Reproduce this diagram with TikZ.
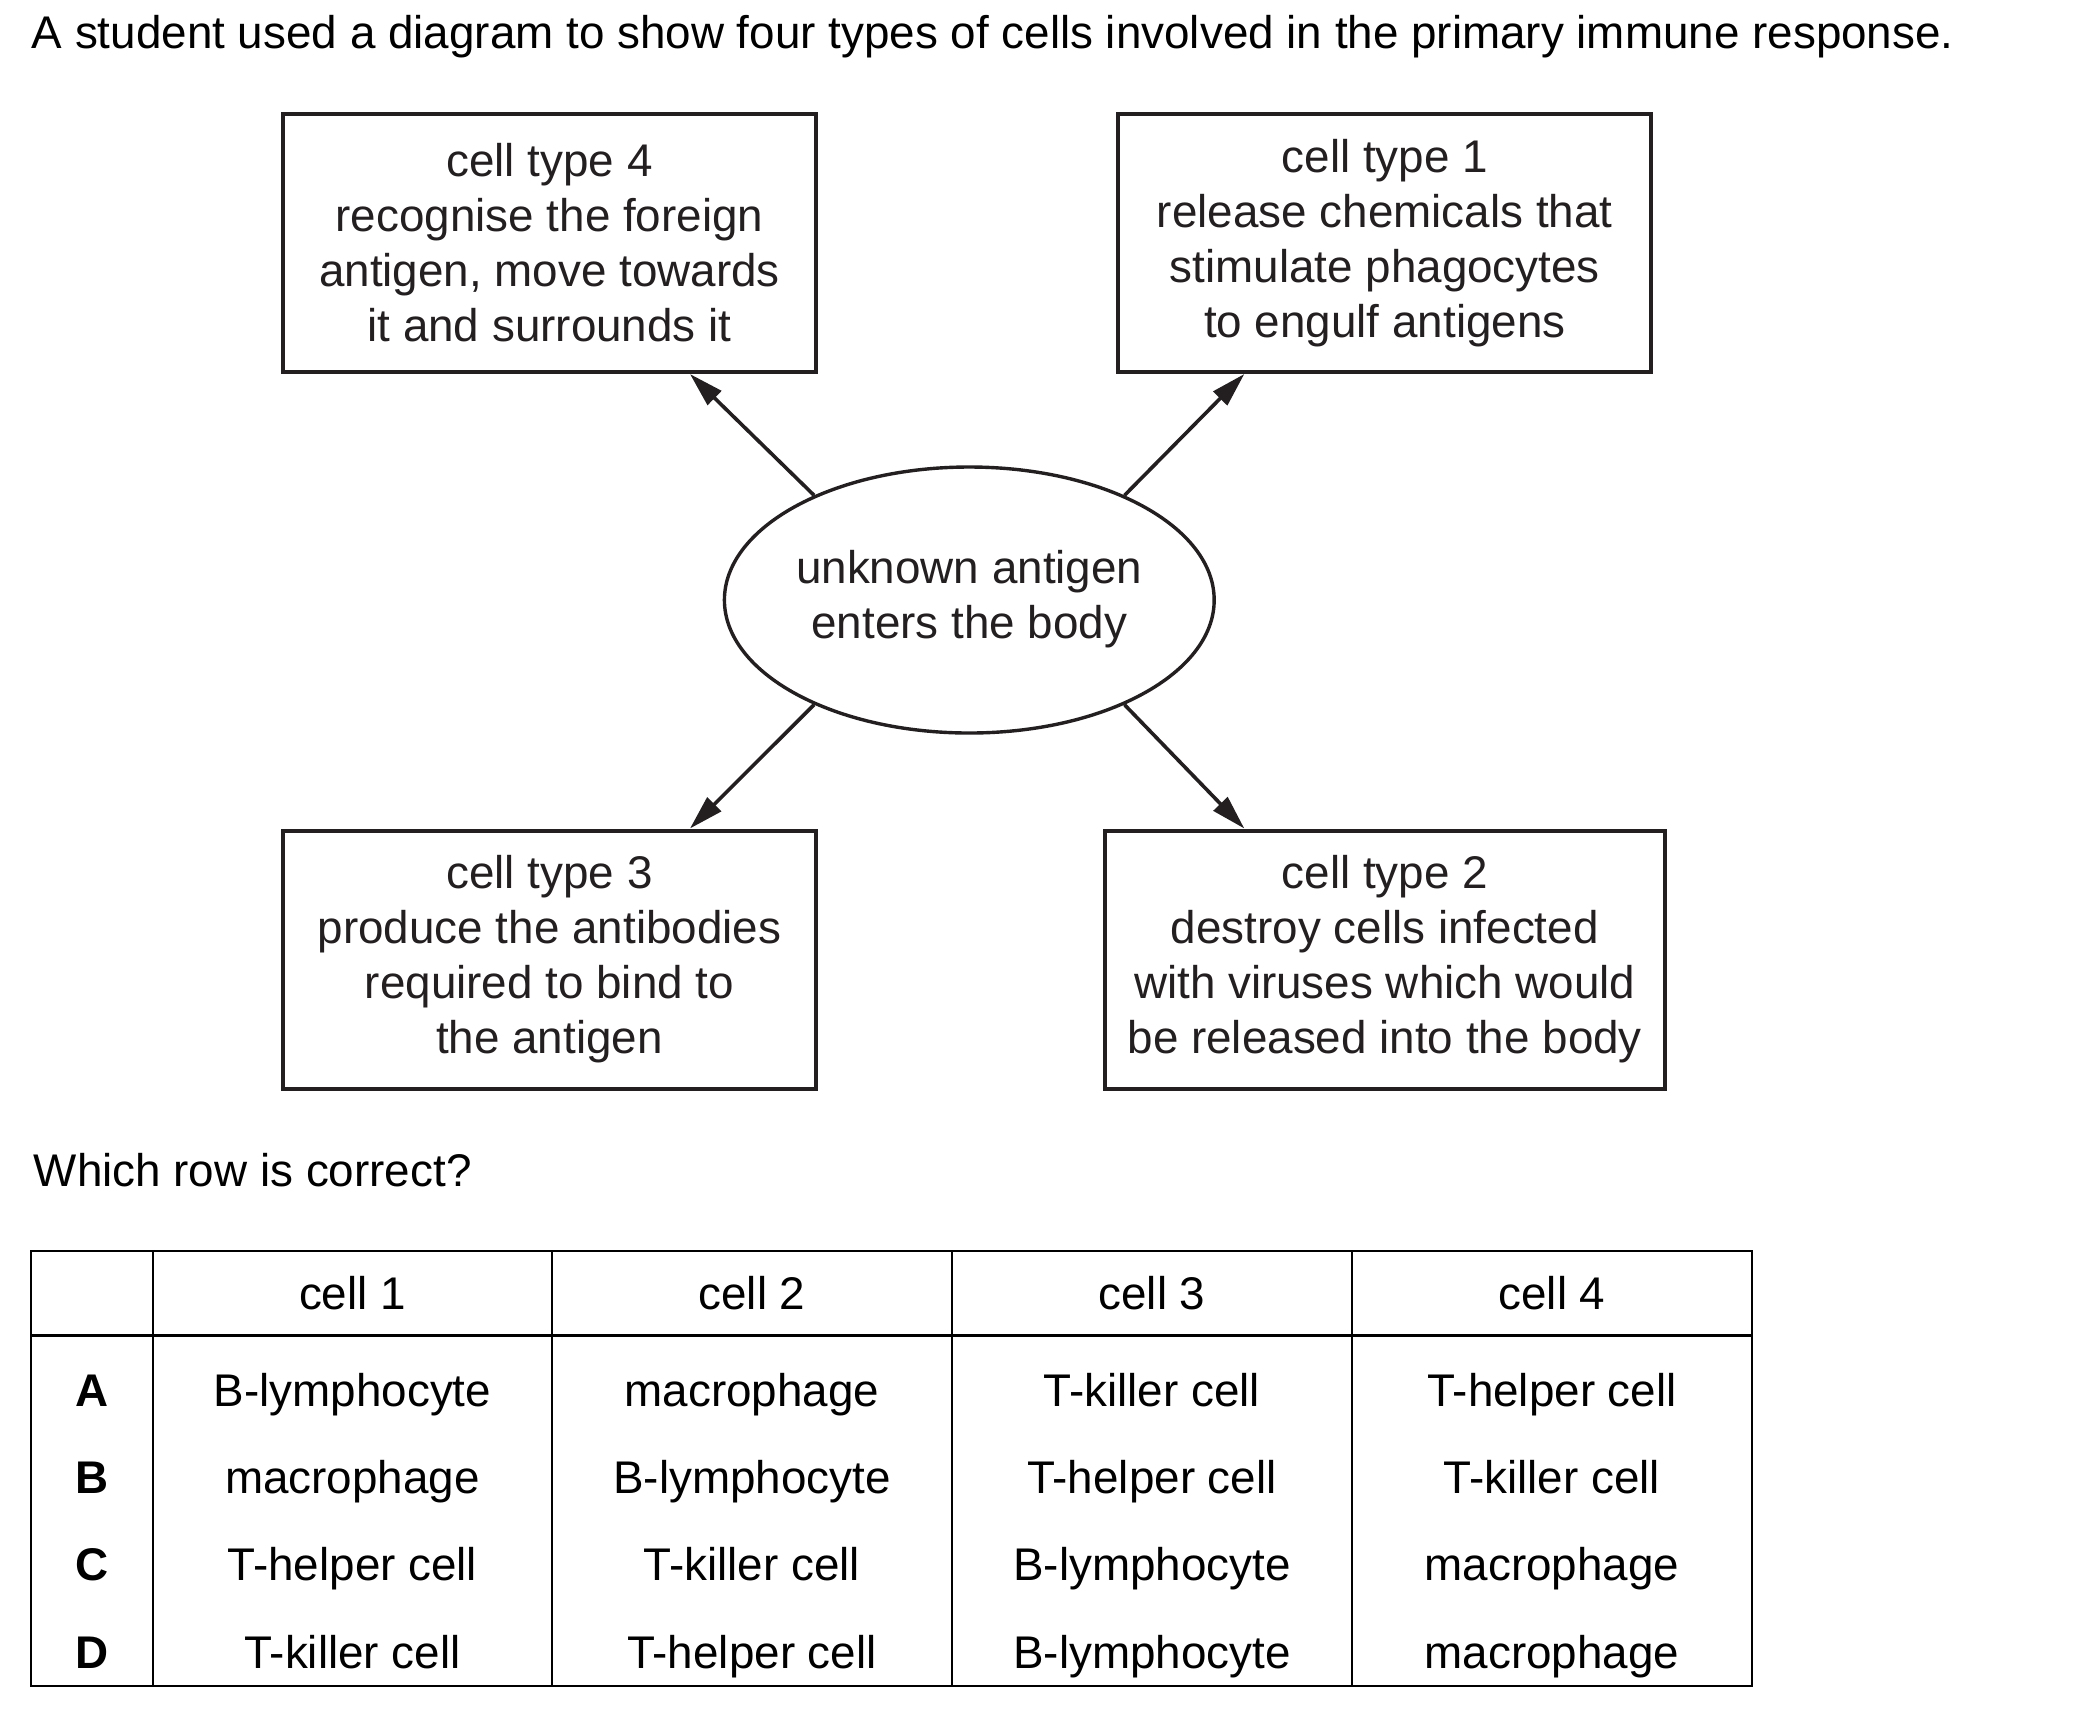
\documentclass[tikz,border=0pt]{standalone}
\usepackage{fontspec}
\setmainfont{Liberation Sans}
\usepackage{tikz}
\usetikzlibrary{arrows.meta,shapes.geometric}
\definecolor{ink}{HTML}{231F20}

\begin{document}
\begin{tikzpicture}[x=0.25pt,y=-0.25pt,>={Triangle[length=8.6pt,width=4.8pt]},
  every node/.style={font=\fontsize{11.45}{13.75}\selectfont,inner sep=0pt},
  cellbox/.style={draw=ink,line width=1pt,text=ink,align=center,minimum width=133.25pt,minimum height=64.5pt},
  antigenbox/.style={ellipse,draw=ink,line width=0.85pt,text=ink,align=center,minimum width=122.35pt,minimum height=66.5pt},
  link/.style={->,draw=ink,line width=0.9pt},
  tabrule/.style={line width=0.7pt},
  entry/.style={anchor=base},
  rowletter/.style={anchor=base,font=\fontsize{11.45}{13.75}\selectfont\bfseries}]
\useasboundingbox (0,0) rectangle (2100,1716);

% question text
\node[anchor=base west] (title) at (31,48) {A student used a diagram to show four types of cells involved in the primary immune response.};

% diagram
\node[cellbox] (box4) at (549.5,243) {cell type 4\\recognise the foreign\\antigen, move towards\\it and surrounds it};
\node[cellbox] (box1) at (1384.8,243) {cell type 1\\release chemicals that\\stimulate phagocytes\\to engulf antigens};
\node[antigenbox] (ant) at (969.3,600) {\strut unknown antigen\\enters the body\strut};
\node[cellbox] (box3) at (549.5,959.5) {cell type 3\\produce the antibodies\\required to bind to\\the antigen};
\node[cellbox,minimum width=140pt] (box2) at (1384.8,959.5) {cell type 2\\destroy cells infected\\with viruses which would\\be released into the body};
\draw[link] (ant.146) -- (box4.-43);
\draw[link] (ant.34) -- (box1.223);
\draw[link] (ant.214) -- (box3.43);
\draw[link] (ant.326) -- (box2.137);

\node[anchor=base west] (ask) at (33,1186) {Which row is correct?};

% table
\draw[tabrule] (31,1251) rectangle (1752,1686);
\draw[tabrule] (31,1335.5) -- (1752,1335.5);
\draw[tabrule] (153,1251) -- (153,1686) (552,1251) -- (552,1686) (952,1251) -- (952,1686) (1352,1251) -- (1352,1686);

\node[entry] (h1) at (352.5,1309.3) {cell 1};
\node[entry] (h2) at (752,1309.3) {cell 2};
\node[entry] (h3) at (1152,1309.3) {cell 3};
\node[entry] (h4) at (1552,1309.3) {cell 4};

\node[rowletter] (rA) at (92,1406.7) {A};
\node[entry] (cA1) at (352.5,1406.7) {B-lymphocyte};
\node[entry] (cA2) at (752,1406.7) {macrophage};
\node[entry] (cA3) at (1152,1406.7) {T-killer cell};
\node[entry] (cA4) at (1552,1406.7) {T-helper cell};

\node[rowletter] (rB) at (92,1493.8) {B};
\node[entry] (cB1) at (352.5,1493.8) {macrophage};
\node[entry] (cB2) at (752,1493.8) {B-lymphocyte};
\node[entry] (cB3) at (1152,1493.8) {T-helper cell};
\node[entry] (cB4) at (1552,1493.8) {T-killer cell};

\node[rowletter] (rC) at (92,1580.9) {C};
\node[entry] (cC1) at (352.5,1580.9) {T-helper cell};
\node[entry] (cC2) at (752,1580.9) {T-killer cell};
\node[entry] (cC3) at (1152,1580.9) {B-lymphocyte};
\node[entry] (cC4) at (1552,1580.9) {macrophage};

\node[rowletter] (rD) at (92,1668) {D};
\node[entry] (cD1) at (352.5,1668) {T-killer cell};
\node[entry] (cD2) at (752,1668) {T-helper cell};
\node[entry] (cD3) at (1152,1668) {B-lymphocyte};
\node[entry] (cD4) at (1552,1668) {macrophage};
\end{tikzpicture}
\end{document}
